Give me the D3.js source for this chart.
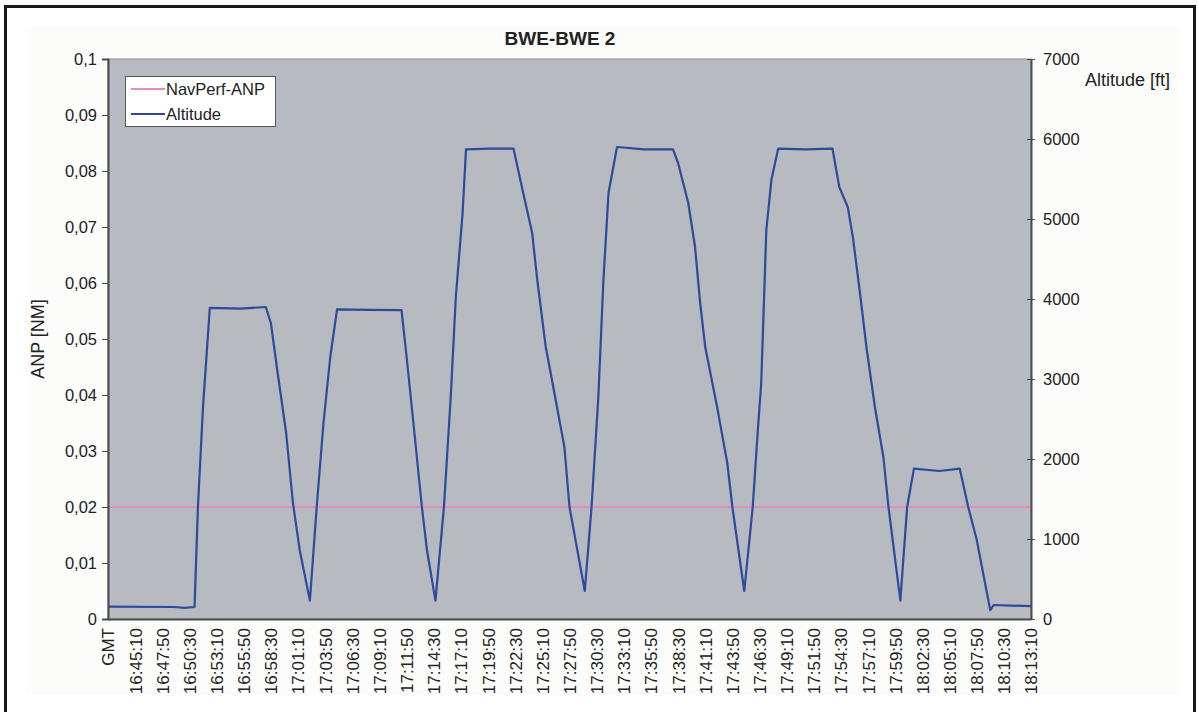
<!DOCTYPE html>
<html>
<head>
<meta charset="utf-8">
<script src="https://cdn.jsdelivr.net/npm/d3@7"></script>
<style>
  html, body { margin: 0; padding: 0; background: #ffffff; }
  svg { display: block; font-family: "Liberation Sans", Arial, sans-serif; }
</style>
</head>
<body>
<svg id="chart" width="1199" height="712"></svg>
<script>
// ---------- DATA ----------
const chartTitle = "BWE-BWE 2";
const xTickLabels = ["GMT","16:45:10","16:47:50","16:50:30","16:53:10","16:55:50","16:58:30","17:01:10","17:03:50","17:06:30","17:09:10","17:11:50","17:14:30","17:17:10","17:19:50","17:22:30","17:25:10","17:27:50","17:30:30","17:33:10","17:35:50","17:38:30","17:41:10","17:43:50","17:46:30","17:49:10","17:51:50","17:54:30","17:57:10","17:59:50","18:02:30","18:05:10","18:07:50","18:10:30","18:13:10"];
const xStartTime = "16:42:30";
const xEndTime = "18:13:10";
const xTickStepSec = 160;

const anpTimes = ["16:42:30", "18:13:10"];
const anpValues = [0.02, 0.02];

const altTimes = ["16:42:30","16:49:00","16:50:00","16:51:00","16:51:20","16:51:50","16:52:30","16:55:30","16:58:00","16:58:30","16:59:10","17:00:00","17:00:40","17:01:20","17:02:20","17:03:00","17:03:40","17:04:20","17:05:00","17:08:10","17:11:20","17:11:50","17:12:30","17:13:20","17:13:50","17:14:40","17:15:30","17:16:10","17:16:40","17:17:20","17:17:40","17:20:00","17:22:20","17:23:00","17:24:10","17:24:40","17:25:30","17:26:10","17:27:20","17:27:50","17:29:20","17:30:00","17:30:40","17:31:10","17:31:40","17:32:30","17:35:10","17:38:00","17:38:30","17:39:30","17:40:10","17:40:40","17:41:10","17:42:20","17:43:20","17:43:50","17:45:00","17:45:50","17:46:20","17:46:40","17:47:10","17:47:40","17:48:20","17:51:00","17:53:40","17:54:20","17:55:10","17:55:40","17:56:20","17:57:00","17:57:50","17:58:40","17:59:10","18:00:20","18:01:00","18:01:40","18:04:10","18:06:10","18:07:00","18:07:50","18:09:10","18:09:30","18:13:10"];
const altValues = [155,150,140,150,1400,2650,3890,3880,3900,3700,3075,2325,1450,860,230,1400,2450,3275,3870,3865,3860,3275,2450,1400,860,230,1400,2775,4025,5075,5870,5880,5880,5490,4825,4240,3400,2950,2150,1400,350,1400,2775,4240,5325,5900,5870,5870,5700,5200,4650,3950,3400,2650,1950,1400,350,1400,2360,2950,4860,5490,5880,5870,5880,5400,5150,4775,4110,3400,2650,2025,1400,230,1400,1880,1850,1880,1400,990,110,175,160];

const leftTicks = [0,0.01,0.02,0.03,0.04,0.05,0.06,0.07,0.08,0.09,0.1];
const rightTicks = [0,1000,2000,3000,4000,5000,6000,7000];
const seriesNames = ["NavPerf-ANP", "Altitude"];

// ---------- LAYOUT ----------
const toSec = s => { const p = s.split(":").map(Number); return p[0]*3600 + p[1]*60 + p[2]; };
const plot = { left: 108, right: 1031, top: 59, bottom: 619 };
const colors = { bg: "#b7bbc1", anp: "#e38cbf", alt: "#2e4a9c", axis: "#4a4a4a", text: "#222222" };
const FONT = "Liberation Sans, Arial, sans-serif";

const svg = d3.select("#chart");

// outer frame
svg.append("rect").attr("x", 26).attr("y", 27).attr("width", 1154).attr("height", 668)
  .attr("fill", "#fcfcfa");
svg.append("rect").attr("x", 5.5).attr("y", 6.5).attr("width", 1189).attr("height", 720)
  .attr("fill", "none").attr("stroke", "#1a1a1a").attr("stroke-width", 3);

const x = d3.scaleLinear().domain([toSec(xStartTime), toSec(xEndTime)]).range([plot.left, plot.right]);
const yL = d3.scaleLinear().domain([0, 0.1]).range([plot.bottom, plot.top]);
const yR = d3.scaleLinear().domain([0, 7000]).range([plot.bottom, plot.top]);

// plot area
svg.append("rect").attr("x", plot.left).attr("y", plot.top)
  .attr("width", plot.right - plot.left).attr("height", plot.bottom - plot.top)
  .attr("fill", colors.bg).attr("stroke", "#8e9196").attr("stroke-width", 1);

// ANP line
const anpData = anpTimes.map((t, i) => ({ t: toSec(t), v: anpValues[i] }));
svg.append("path").datum(anpData)
  .attr("fill", "none").attr("stroke", colors.anp).attr("stroke-width", 2.2)
  .attr("d", d3.line().x(d => x(d.t)).y(d => yL(d.v)));

// Altitude line
const altData = altTimes.map((t, i) => ({ t: toSec(t), v: altValues[i] }));
svg.append("path").datum(altData)
  .attr("fill", "none").attr("stroke", colors.alt).attr("stroke-width", 2.2)
  .attr("stroke-linejoin", "round")
  .attr("d", d3.line().x(d => x(d.t)).y(d => yR(d.v)));

// Left axis
const fmtL = d => d === 0 ? "0" : d3.format(".2~f")(d).replace(".", ",");
const gL = svg.append("g").attr("transform", `translate(${plot.left},0)`)
  .call(d3.axisLeft(yL).tickValues(leftTicks).tickFormat(fmtL).tickSize(6).tickPadding(5));
gL.select(".domain").attr("stroke", colors.axis).attr("stroke-width", 2);
gL.selectAll(".tick line").attr("stroke", colors.axis);
gL.selectAll(".tick text").attr("font-size", 16.5).attr("fill", colors.text).attr("font-family", FONT);

// Right axis
const gR = svg.append("g").attr("transform", `translate(${plot.right},0)`)
  .call(d3.axisRight(yR).tickValues(rightTicks).tickFormat(d3.format("d")).tickSizeInner(4).tickSizeOuter(0).tickPadding(8));
gR.select(".domain").attr("stroke", colors.axis).attr("stroke-width", 2);
gR.selectAll(".tick line").attr("stroke", colors.axis).attr("x1", -4);
gR.selectAll(".tick text").attr("font-size", 16.5).attr("fill", colors.text).attr("font-family", FONT);

// Bottom axis
const xTickVals = xTickLabels.map((_, i) => toSec(xStartTime) + i * xTickStepSec);
const gB = svg.append("g").attr("transform", `translate(0,${plot.bottom})`)
  .call(d3.axisBottom(x).tickValues(xTickVals).tickFormat((d, i) => xTickLabels[i]).tickSize(0).tickPadding(0));
gB.select(".domain").attr("stroke", colors.axis).attr("stroke-width", 2);
gB.selectAll(".tick text")
  .attr("font-size", 17).attr("fill", colors.text).attr("font-family", FONT)
  .attr("text-anchor", "end").attr("dy", "0.35em")
  .attr("transform", "translate(0,9) rotate(-90)").attr("x", 0).attr("y", 0);

// Title
svg.append("text").attr("x", 560).attr("y", 45).attr("text-anchor", "middle")
  .attr("font-size", 19).attr("font-weight", "bold").attr("fill", colors.text).text(chartTitle);

// Axis titles
svg.append("text").attr("transform", `translate(44,${(plot.top + plot.bottom) / 2}) rotate(-90)`)
  .attr("text-anchor", "middle").attr("font-size", 18).attr("fill", colors.text).text("ANP [NM]");
svg.append("text").attr("x", 1085).attr("y", 86).attr("font-size", 18).attr("fill", colors.text).text("Altitude [ft]");

// Legend
const lg = svg.append("g").attr("transform", "translate(125,76)");
lg.append("rect").attr("x", 0.5).attr("y", 0.5).attr("width", 150).attr("height", 50)
  .attr("fill", "#ffffff").attr("stroke", "#555").attr("stroke-width", 1);
const legendColors = [colors.anp, colors.alt];
seriesNames.forEach((name, i) => {
  const yy = 13 + i * 25;
  lg.append("line").attr("x1", 6).attr("x2", 40).attr("y1", yy).attr("y2", yy)
    .attr("stroke", legendColors[i]).attr("stroke-width", 2);
  lg.append("text").attr("x", 41).attr("y", yy).attr("dy", "0.35em")
    .attr("font-size", 16.5).attr("fill", colors.text).text(name);
});
</script>
</body>
</html>
